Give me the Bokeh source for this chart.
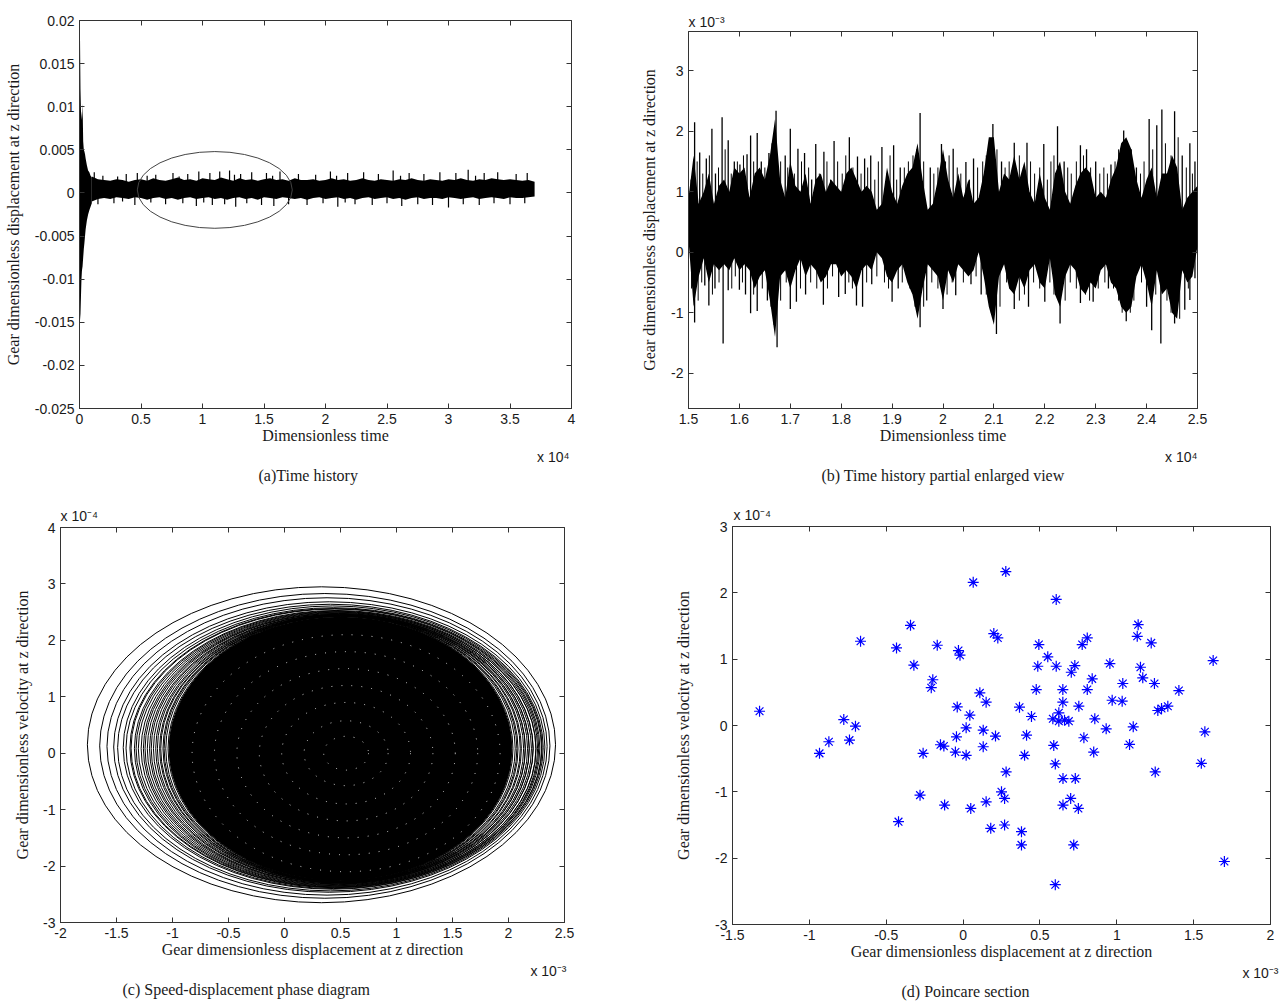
import numpy as np
from bokeh.plotting import figure
from bokeh.layouts import column, row
from bokeh.models import FixedTicker, LinearAxis, Range1d, Title, Plot
from bokeh.embed import file_html
from bokeh.resources import INLINE

# ---------------- panel (a): time history (t in 1e4, y actual) ----------------
a_tr_t = [0.000, 0.004, 0.008, 0.012, 0.016, 0.020, 0.025, 0.030, 0.035, 0.040, 0.045, 0.050, 0.060, 0.070, 0.080, 0.090, 0.100]
a_tr_hi = [0.0, 0.0183, 0.0120, 0.0095, 0.0090, 0.0085, 0.0104, 0.0060, 0.0050, 0.0048, 0.0045, 0.0040, 0.0032, 0.0026, 0.0024, 0.0020, 0.0018]
a_tr_lo = [0.0, -0.0148, -0.0140, -0.0120, -0.0100, -0.0090, -0.0085, -0.0075, -0.0065, -0.0058, -0.0050, -0.0042, -0.0032, -0.0025, -0.0020, -0.0016, -0.0012]
a_t0, a_dt = 0.10, 0.05
a_hi_e3 = [1.9, 1.6, 1.5, 1.4, 1.6, 1.5, 1.3, 1.5, 1.6, 1.4,
           1.7, 1.5, 1.4, 1.6, 1.8, 1.5, 1.6, 1.4, 1.7, 1.6,
           1.5, 1.8, 1.6, 1.4, 1.7, 1.5, 1.6, 1.4, 1.6, 1.7,
           1.5, 1.6, 1.4, 1.7, 1.5, 1.5, 1.6, 1.4, 1.5, 1.7,
           1.5, 1.6, 1.4, 1.5, 1.7, 1.5, 1.4, 1.6, 1.5, 1.4,
           1.6, 1.5, 1.7, 1.5, 1.4, 1.6, 1.5, 1.4, 1.6, 1.5,
           1.7, 1.5, 1.4, 1.6, 1.5, 1.7, 1.6, 1.5, 1.6, 1.5,
           1.4, 1.5, 1.3]
a_lo_e3 = [-1.0, -0.7, -0.6, -0.7, -0.5, -0.6, -0.7, -0.5, -0.6, -0.8,
           -0.6, -0.5, -0.7, -0.6, -0.8, -0.6, -0.5, -0.7, -0.6, -0.5,
           -0.7, -0.6, -0.8, -0.6, -0.5, -0.7, -0.6, -0.8, -0.5, -0.6,
           -0.7, -0.5, -0.6, -0.7, -0.6, -0.8, -0.6, -0.5, -0.7, -0.6,
           -0.5, -0.7, -0.6, -0.8, -0.6, -0.5, -0.7, -0.6, -0.5, -0.7,
           -0.6, -0.8, -0.6, -0.5, -0.7, -0.6, -0.6, -0.7, -0.5, -0.6,
           -0.7, -0.6, -0.5, -0.7, -0.6, -0.5, -0.6, -0.7, -0.5, -0.6,
           -0.6, -0.5, -0.4]
a_up_t = [0.12, 0.19, 0.31, 0.38, 0.47, 0.55, 0.62, 0.76, 0.81, 0.88, 0.97, 1.06, 1.14, 1.22, 1.26, 1.31,
          1.40, 1.52, 1.57, 1.63, 1.78, 1.92, 2.04, 2.09, 2.18, 2.31, 2.43, 2.55, 2.61, 2.68, 2.80,
          2.93, 3.06, 3.16, 3.22, 3.29, 3.40, 3.55, 3.64]
a_up_e3 = [2.4, 2.0, 1.9, 2.2, 2.3, 2.0, 2.1, 2.3, 1.9, 2.2, 2.5, 2.3, 2.5, 2.6, 2.1, 2.2,
           2.4, 2.3, 2.0, 2.5, 2.2, 2.1, 2.5, 2.0, 2.3, 2.4, 2.2, 2.6, 2.0, 2.3, 2.2,
           2.4, 2.3, 2.7, 2.0, 2.3, 2.4, 2.2, 2.3]
a_dn_t = [0.15, 0.28, 0.35, 0.45, 0.58, 0.70, 0.84, 0.95, 1.01, 1.08, 1.18, 1.27, 1.36, 1.48, 1.58,
          1.70, 1.85, 1.98, 2.10, 2.16, 2.24, 2.38, 2.50, 2.62, 2.75, 2.87, 3.00, 3.12, 3.25,
          3.37, 3.50, 3.62]
a_dn_e3 = [-1.3, -1.2, -1.0, -1.4, -1.1, -1.3, -1.2, -1.5, -1.1, -1.4, -1.3, -1.6, -1.2, -1.4, -1.5,
           -1.3, -1.4, -1.2, -1.6, -1.1, -1.3, -1.4, -1.2, -1.5, -1.3, -1.4, -1.7, -1.3, -1.4,
           -1.2, -1.3, -1.2]
a_mark = dict(x=1.10, y=0.00035, w=1.26, h=0.0089)   # circled region
a_yticks = [-0.025, -0.02, -0.015, -0.01, -0.005, 0, 0.005, 0.01, 0.015, 0.02]
a_ylabels = ["-0.025", "-0.02", "-0.015", "-0.01", "-0.005", "0", "0.005", "0.01", "0.015", "0.02"]
a_xticks = [0, 0.5, 1, 1.5, 2, 2.5, 3, 3.5, 4]
a_xlabels = ["0", "0.5", "1", "1.5", "2", "2.5", "3", "3.5", "4"]

# ---------------- panel (b): enlarged (t in 1e4, y in 1e-3) ----------------
b_t0, b_dt = 1.50, 0.01
b_hi = [0.9, 1.6, 0.8, 1.0, 1.3, 0.8, 1.1, 1.2, 1.0, 1.4,
        1.3, 1.4, 0.9, 1.3, 1.4, 1.2, 1.6, 2.2, 1.2, 0.9,
        1.5, 1.1, 1.0, 1.3, 0.8, 1.2, 1.3, 1.0, 1.2, 1.1,
        1.0, 1.3, 1.4, 1.2, 1.0, 1.1, 1.0, 0.7, 0.8, 1.4,
        1.0, 0.8, 1.1, 1.3, 1.4, 1.8, 1.2, 0.7, 0.8, 1.2,
        1.7, 1.2, 0.9, 1.3, 0.9, 1.2, 0.8, 0.9, 1.3, 1.9,
        1.9, 1.0, 1.3, 1.2, 1.6, 1.2, 1.5, 1.0, 0.8, 1.3,
        0.9, 0.7, 1.3, 1.5, 1.0, 0.8, 1.1, 1.3, 1.4, 1.3,
        0.9, 1.0, 0.9, 1.2, 1.4, 1.8, 1.9, 1.7, 1.2, 0.9,
        1.2, 1.4, 0.9, 1.3, 1.3, 1.6, 1.4, 0.7, 0.9, 1.0,
        1.1]
b_lo = [0.2, -0.9, -0.4, -0.1, -0.5, -0.2, -0.3, -0.2, -0.3, -0.1,
        -0.3, -0.2, -0.3, -0.6, -0.4, -0.3, -0.8, -1.4, -0.4, -0.3,
        -0.6, -0.3, -0.1, -0.4, -0.2, -0.3, -0.5, -0.4, -0.2, -0.2,
        -0.4, -0.3, -0.4, -0.6, -0.3, -0.2, -0.3, 0.0, -0.1, -0.4,
        -0.5, -0.3, -0.2, -0.5, -0.7, -1.1, -0.6, -0.2, -0.3, -0.4,
        -0.8, -0.3, -0.5, -0.2, -0.3, -0.4, -0.3, 0.0, -0.4, -0.9,
        -1.2, -0.4, -0.2, -0.6, -0.7, -0.4, -0.6, -0.3, -0.2, -0.5,
        -0.6, -0.1, -0.7, -0.9, -0.4, -0.2, -0.3, -0.6, -0.7, -0.5,
        -0.6, -0.3, -0.2, -0.5, -0.6, -0.9, -1.0, -0.9, -0.4, -0.2,
        -0.5, -0.9, -0.3, -0.7, -0.6, -1.0, -1.1, -0.3, -0.5, -0.4,
        0.1]
b_up_t = [1.512, 1.522, 1.535, 1.546, 1.553, 1.566, 1.578, 1.590, 1.601, 1.615, 1.622, 1.635, 1.643, 1.658,
          1.672, 1.690, 1.700, 1.715, 1.728, 1.742, 1.750, 1.766, 1.786, 1.816, 1.832, 1.846, 1.858, 1.880,
          1.903, 1.916, 1.955, 1.975, 1.997, 2.020, 2.045, 2.060, 2.098, 2.115, 2.140, 2.165, 2.198, 2.225,
          2.238, 2.270, 2.282, 2.300, 2.330, 2.355, 2.380, 2.405, 2.420, 2.430, 2.455, 2.470, 2.485, 2.495]
b_up_v = [2.15, 1.65, 1.55, 2.04, 1.30, 2.23, 1.85, 1.50, 1.45, 1.62, 1.93, 1.97, 1.50, 1.64,
          2.34, 1.60, 2.04, 1.71, 1.64, 1.20, 1.79, 1.66, 1.84, 1.90, 1.58, 1.55, 1.60, 1.74,
          1.77, 1.40, 2.30, 1.40, 1.79, 1.71, 1.49, 1.55, 2.12, 1.50, 1.81, 1.81, 1.79, 2.08,
          1.50, 1.77, 1.70, 1.50, 1.45, 2.01, 1.40, 2.20, 2.10, 2.36, 2.33, 1.60, 1.80, 1.50]
b_dn_t = [1.512, 1.532, 1.540, 1.552, 1.568, 1.578, 1.600, 1.612, 1.622, 1.635, 1.655, 1.674, 1.700, 1.712,
          1.730, 1.765, 1.795, 1.808, 1.830, 1.842, 1.860, 1.900, 1.912, 1.955, 1.968, 2.000, 2.025, 2.055,
          2.075, 2.105, 2.140, 2.168, 2.200, 2.230, 2.270, 2.295, 2.325, 2.360, 2.400, 2.410, 2.428, 2.455,
          2.475, 2.485, 2.495]
b_dn_v = [-1.16, -0.55, -0.88, -0.60, -1.51, -0.63, -0.62, -0.70, -1.01, -0.97, -0.80, -1.57, -0.94, -0.82,
          -0.70, -0.87, -0.74, -0.69, -0.88, -0.90, -0.53, -0.82, -0.60, -1.24, -0.80, -0.94, -0.71, -0.53,
          -0.70, -1.35, -0.94, -0.90, -0.82, -1.18, -0.84, -0.82, -0.60, -1.14, -0.90, -1.29, -1.51, -1.18,
          -0.95, -0.79, -0.43]
# finer oscillation spikes between the main peaks
b_up2_t = [1.505, 1.517, 1.528, 1.541, 1.559, 1.572, 1.584, 1.596, 1.608, 1.628, 1.650, 1.664, 1.681, 1.695,
           1.708, 1.722, 1.736, 1.757, 1.772, 1.779, 1.793, 1.802, 1.809, 1.823, 1.839, 1.852, 1.866, 1.873,
           1.889, 1.896, 1.909, 1.924, 1.932, 1.941, 1.948, 1.962, 1.982, 1.990, 2.005, 2.012, 2.028, 2.035,
           2.052, 2.068, 2.078, 2.085, 2.092, 2.106, 2.122, 2.130, 2.150, 2.158, 2.172, 2.180, 2.190, 2.205,
           2.212, 2.218, 2.245, 2.252, 2.262, 2.276, 2.290, 2.308, 2.316, 2.323, 2.338, 2.345, 2.362, 2.370,
           2.388, 2.395, 2.412, 2.437, 2.448, 2.462, 2.478, 2.490]
b_up2_v = [1.2, 1.5, 1.3, 1.6, 1.4, 1.7, 1.3, 1.5, 1.6, 1.5, 1.4, 1.8, 1.5, 1.4,
           1.3, 1.5, 1.4, 1.3, 1.5, 1.2, 1.5, 1.3, 1.6, 1.4, 1.3, 1.4, 1.2, 1.5,
           1.3, 1.6, 1.2, 1.4, 1.5, 1.6, 1.7, 1.5, 1.3, 1.4, 1.5, 1.6, 1.4, 1.3,
           1.2, 1.4, 1.5, 1.6, 1.8, 1.7, 1.4, 1.5, 1.6, 1.4, 1.5, 1.3, 1.4, 1.2,
           1.5, 1.6, 1.4, 1.3, 1.5, 1.6, 1.4, 1.3, 1.4, 1.3, 1.5, 1.7, 1.8, 1.7,
           1.3, 1.5, 1.7, 1.8, 1.6, 1.9, 1.4, 1.3]
b_dn2_t = [1.506, 1.519, 1.526, 1.547, 1.560, 1.585, 1.592, 1.606, 1.628, 1.645, 1.662, 1.668, 1.681, 1.692,
           1.720, 1.740, 1.752, 1.773, 1.783, 1.815, 1.822, 1.850, 1.870, 1.885, 1.893, 1.920, 1.935, 1.945,
           1.962, 1.978, 1.990, 2.008, 2.018, 2.040, 2.065, 2.085, 2.095, 2.112, 2.125, 2.132, 2.150, 2.160,
           2.178, 2.190, 2.210, 2.218, 2.240, 2.250, 2.262, 2.280, 2.288, 2.305, 2.318, 2.335, 2.345, 2.352,
           2.368, 2.375, 2.390, 2.418, 2.440, 2.448, 2.465, 2.482]
b_dn2_v = [-0.6, -0.8, -0.5, -0.7, -0.5, -0.6, -0.4, -0.5, -0.7, -0.6, -0.9, -1.2, -0.8, -0.5,
           -0.6, -0.5, -0.6, -0.6, -0.4, -0.5, -0.6, -0.5, -0.4, -0.5, -0.6, -0.5, -0.6, -0.9,
           -0.9, -0.5, -0.6, -0.7, -0.5, -0.5, -0.4, -0.7, -1.0, -0.9, -0.5, -0.6, -0.8, -0.7,
           -0.5, -0.6, -0.5, -0.7, -0.8, -0.5, -0.6, -0.7, -0.8, -0.6, -0.5, -0.6, -0.8, -1.0,
           -1.0, -0.8, -0.5, -0.7, -0.8, -1.0, -1.1, -0.6]
b_yticks = [-2, -1, 0, 1, 2, 3]
b_xticks = [1.5, 1.6, 1.7, 1.8, 1.9, 2, 2.1, 2.2, 2.3, 2.4, 2.5]
b_xlabels = ["1.5", "1.6", "1.7", "1.8", "1.9", "2", "2.1", "2.2", "2.3", "2.4", "2.5"]

# ---------------- panel (c): phase diagram (x in 1e-3, y in 1e-4) ----------------
c_ring_cx = [0.33, 0.36, 0.38, 0.40, 0.41, 0.43, 0.44, 0.45, 0.45, 0.46, 0.46, 0.47, 0.47, 0.48,
             0.48, 0.48, 0.49, 0.49, 0.49, 0.50, 0.50, 0.50, 0.50, 0.50, 0.50, 0.50, 0.50]
c_ring_cy = [0.15, 0.13, 0.12, 0.11, 0.10, 0.10, 0.09, 0.09, 0.09, 0.08, 0.08, 0.08, 0.08, 0.08,
             0.08, 0.08, 0.08, 0.08, 0.08, 0.08, 0.08, 0.08, 0.08, 0.08, 0.08, 0.08, 0.08]
c_ring_w = [4.18, 4.02, 3.93, 3.85, 3.80, 3.74, 3.71, 3.66, 3.64, 3.60, 3.57, 3.55, 3.50, 3.48,
            3.45, 3.41, 3.39, 3.36, 3.32, 3.30, 3.27, 3.23, 3.21, 3.17, 3.15, 3.12, 3.08]
c_ring_h = [5.60, 5.40, 5.27, 5.15, 5.08, 5.02, 4.98, 4.95, 4.93, 4.90, 4.88, 4.86, 4.84, 4.82,
            4.80, 4.79, 4.77, 4.76, 4.75, 4.74, 4.73, 4.72, 4.72, 4.71, 4.70, 4.70, 4.69]
c_core = dict(x=0.50, y=0.08, w=3.06, h=4.68)
c_tex_w = [2.75, 2.35, 1.95, 1.55, 1.15, 0.75, 0.40]
c_tex_h = [4.20, 3.60, 3.00, 2.40, 1.80, 1.15, 0.60]
c_xticks = [-2, -1.5, -1, -0.5, 0, 0.5, 1, 1.5, 2, 2.5]
c_xlabels = ["-2", "-1.5", "-1", "-0.5", "0", "0.5", "1", "1.5", "2", "2.5"]
c_yticks = [-3, -2, -1, 0, 1, 2, 3, 4]

# ---------------- panel (d): Poincare section (x in 1e-3, y in 1e-4) ----------------
d_x = [-1.324, -0.934, -0.873, -0.776, -0.739, -0.700, -0.667, -0.433, -0.342, -0.320, -0.168, -0.197,
       -0.207, -0.030, -0.020, -0.038, -0.043, -0.147, -0.125,
       0.066, 0.278, 0.606, 0.200, 0.226, 0.493, 0.551, 0.486, 0.606, 0.727, 0.704, 0.775, 0.808, 0.955,
       1.139, 1.133, 1.224, 1.154, 1.169, 1.245, 1.404, 1.627, 0.840, 1.039, 0.109, 0.150, 0.476, 0.649,
       0.808, 0.649, 0.970, 1.035, 0.044, 0.367, 0.445, 0.753, 0.623, 0.584, 0.623, 0.660, 0.688, 0.857,
       1.267, 1.291, 1.332, 0.020, 0.131, 0.211, 0.413, 0.931, 1.107, 0.786, 1.573, 0.131, 0.590, 1.083,
       -0.120, 0.050, 0.150, 0.180, 0.250, 0.270, 0.280, 0.270, 0.380, 0.380, 0.600, 0.650, 0.650, 0.700,
       0.720, 0.750, 0.600, 0.730, 1.250, 1.550, 1.700, 0.850, 0.400, 0.020, -0.050, -0.260, -0.280, -0.420]
d_y = [0.215, -0.420, -0.245, 0.090, -0.220, -0.010, 1.270, 1.170, 1.510, 0.910, 1.210, 0.690,
       0.570, 1.130, 1.060, 0.280, -0.170, -0.290, -0.310,
       2.158, 2.320, 1.900, 1.386, 1.320, 1.220, 1.035, 0.893, 0.893, 0.904, 0.803, 1.220, 1.320, 0.934,
       1.520, 1.345, 1.245, 0.878, 0.718, 0.633, 0.527, 0.979, 0.703, 0.633, 0.492, 0.351, 0.542, 0.542,
       0.542, 0.351, 0.381, 0.366, 0.155, 0.276, 0.136, 0.291, 0.191, 0.101, 0.065, 0.080, 0.065, 0.101,
       0.226, 0.256, 0.291, -0.035, -0.070, -0.160, -0.146, -0.050, -0.020, -0.185, -0.095, -0.320, -0.300, -0.286,
       -1.200, -1.250, -1.150, -1.550, -1.000, -1.100, -0.700, -1.500, -1.600, -1.800, -0.580, -0.800, -1.200, -1.100,
       -1.800, -1.250, -2.400, -0.800, -0.700, -0.570, -2.050, -0.400, -0.450, -0.450, -0.400, -0.420, -1.050, -1.450]
d_xticks = [-1.5, -1, -0.5, 0, 0.5, 1, 1.5, 2]
d_xlabels = ["-1.5", "-1", "-0.5", "0", "0.5", "1", "1.5", "2"]
d_yticks = [-3, -2, -1, 0, 1, 2, 3]

# ---------------- styling helpers ----------------
SANS = "Liberation Sans"
SERIF = "Liberation Serif"
AX = "#333333"
TXT = "#1a1a1a"
HAS_STANDOFF = "standoff" in Title.properties()
HAS_FRAME_ALIGN = "frame_align" in Plot.properties()


def make_fig(w, h, bl, br, bt, bb, xr, yr, xt, xl, yt, yl, xlab, ylab, ylab_standoff):
    kw = {}
    if HAS_FRAME_ALIGN:
        kw["frame_align"] = False
    p = figure(width=w, height=h, x_range=Range1d(*xr), y_range=Range1d(*yr), title=None,
               output_backend="svg", toolbar_location=None,
               min_border_left=bl, min_border_right=br, min_border_top=bt, min_border_bottom=bb, **kw)
    p.xgrid.visible = False
    p.ygrid.visible = False
    p.outline_line_color = AX
    p.outline_line_width = 1
    p.border_fill_color = "white"
    for ax, ticks, labels in ((p.xaxis[0], xt, xl), (p.yaxis[0], yt, yl)):
        ax.ticker = FixedTicker(ticks=ticks)
        ax.major_label_overrides = {t: s for t, s in zip(ticks, labels)}
        ax.major_tick_in = 5
        ax.major_tick_out = 0
        ax.minor_tick_line_color = None
        ax.axis_line_color = AX
        ax.major_tick_line_color = AX
        ax.major_label_text_font = SANS
        ax.major_label_text_font_size = "14px"
        ax.major_label_text_color = TXT
        ax.axis_label_text_font = SERIF
        ax.axis_label_text_font_style = "normal"
        ax.axis_label_text_font_size = "16px"
        ax.axis_label_text_color = TXT
    p.xaxis[0].major_label_standoff = 5
    p.yaxis[0].major_label_standoff = 5
    p.xaxis[0].axis_label = xlab
    p.yaxis[0].axis_label = ylab
    p.xaxis[0].axis_label_standoff = 0
    p.yaxis[0].axis_label_standoff = ylab_standoff
    for ticks, side in ((xt, "above"), (yt, "right")):
        ax = LinearAxis(ticker=FixedTicker(ticks=ticks), major_label_text_font_size="1px",
                        major_label_text_color=None, major_label_standoff=0,
                        major_tick_in=5, major_tick_out=0,
                        minor_tick_line_color=None, axis_line_color=None,
                        major_tick_line_color=AX)
        p.add_layout(ax, side)
    return p


def add_text(p, side, text, size, font, align, offset, standoff=0):
    kw = dict(text=text, text_font=font, text_font_size=size, text_font_style="normal",
              text_color=TXT, align=align, offset=offset)
    if HAS_STANDOFF:
        kw["standoff"] = standoff
    p.add_layout(Title(**kw), side)


# ---------------- panel (a) ----------------
a_xr, a_yr = (0, 4), (-0.025, 0.02)
pa = make_fig(628, 490, 79, 57, 20, 82, a_xr, a_yr, a_xticks, a_xlabels, a_yticks, a_ylabels,
              "Dimensionless time", "Gear dimensionless displacement at z direction", 10)
a_t = [a_t0 + i * a_dt for i in range(len(a_hi_e3))]
pa.varea(x=a_tr_t, y1=a_tr_lo, y2=a_tr_hi, fill_color="black")
pa.varea(x=a_t, y1=[v * 1e-3 for v in a_lo_e3], y2=[v * 1e-3 for v in a_hi_e3], fill_color="black")
pa.segment(x0=a_up_t, y0=[0.0005] * len(a_up_t), x1=a_up_t, y1=[v * 1e-3 for v in a_up_e3],
           line_color="black", line_width=1.2)
pa.segment(x0=a_dn_t, y0=[0.0005] * len(a_dn_t), x1=a_dn_t, y1=[v * 1e-3 for v in a_dn_e3],
           line_color="black", line_width=1.2)
pa.ellipse(x=[a_mark["x"]], y=[a_mark["y"]], width=[a_mark["w"]], height=[a_mark["h"]],
           fill_color=None, line_color="#444444", line_width=1)
add_text(pa, "below", "x 10\u2074", "14px", SANS, "right", 2)
add_text(pa, "below", "(a)Time history", "16px", SERIF, "left", 179)

# ---------------- panel (b) ----------------
b_xr, b_yr = (1.5, 2.5), (-2.583, 3.648)
pb = make_fig(652, 490, 60, 83, 31, 82, b_xr, b_yr, b_xticks, b_xlabels, b_yticks,
              [str(v) for v in b_yticks], "Dimensionless time",
              "Gear dimensionless displacement at z direction", 10)
b_t = [b_t0 + i * b_dt for i in range(len(b_hi))]
pb.varea(x=b_t, y1=b_lo, y2=b_hi, fill_color="black")
pb.segment(x0=b_up2_t, y0=[0.5] * len(b_up2_t), x1=b_up2_t, y1=b_up2_v, line_color="black", line_width=1.0)
pb.segment(x0=b_dn2_t, y0=[0.3] * len(b_dn2_t), x1=b_dn2_t, y1=b_dn2_v, line_color="black", line_width=1.0)
pb.segment(x0=b_up_t, y0=[0.5] * len(b_up_t), x1=b_up_t, y1=b_up_v, line_color="black", line_width=1.3)
pb.segment(x0=b_dn_t, y0=[0.3] * len(b_dn_t), x1=b_dn_t, y1=b_dn_v, line_color="black", line_width=1.3)
add_text(pb, "above", "x 10\u207b\u00b3", "14px", SANS, "left", 0, 4)
add_text(pb, "below", "x 10\u2074", "14px", SANS, "right", 0)
add_text(pb, "below", "(b) Time history partial enlarged view", "16px", SERIF, "center", 0)

# ---------------- panel (c) ----------------
c_xr, c_yr = (-2, 2.5), (-3, 4)
pc = make_fig(628, 515, 60, 64, 37, 83, c_xr, c_yr, c_xticks, c_xlabels, c_yticks,
              [str(v) for v in c_yticks], "Gear dimensionless displacement at z direction",
              "Gear dimensionless velocity at z direction", 9)
pc.ellipse(x=[c_core["x"]], y=[c_core["y"]], width=[c_core["w"]], height=[c_core["h"]],
           fill_color="black", line_color="black")
pc.ellipse(x=c_ring_cx, y=c_ring_cy, width=c_ring_w, height=c_ring_h,
           fill_color=None, line_color="black", line_width=1)
pc.ellipse(x=[0.55] * len(c_tex_w), y=[0.0] * len(c_tex_w), width=c_tex_w, height=c_tex_h,
           fill_color=None, line_color="white", line_width=1, line_dash="1 9", line_alpha=0.8)
add_text(pc, "above", "x 10\u207b\u2074", "14px", SANS, "left", 0, 8)
add_text(pc, "below", "x 10\u207b\u00b3", "14px", SANS, "right", -2)
add_text(pc, "below", "(c) Speed-displacement phase diagram", "16px", SERIF, "left", 62)

# ---------------- panel (d) ----------------
d_xr, d_yr = (-1.5, 2), (-3, 3)
pd_ = make_fig(652, 515, 104, 10, 36, 81, d_xr, d_yr, d_xticks, d_xlabels, d_yticks,
               [str(v) for v in d_yticks], "Gear dimensionless displacement at z direction",
               "Gear dimensionless velocity at z direction", 20)
pd_.scatter(x=d_x, y=d_y, marker="asterisk", size=11, line_color="#0000ff", line_width=1.2)
add_text(pd_, "above", "x 10\u207b\u2074", "14px", SANS, "left", 1, 8)
add_text(pd_, "below", "x 10\u207b\u00b3", "14px", SANS, "right", -8)
add_text(pd_, "below", "(d) Poincare section", "16px", SERIF, "left", 169)

layout = column(row(pa, pb), row(pc, pd_))
open("out.html", "w").write(file_html(layout, INLINE))
